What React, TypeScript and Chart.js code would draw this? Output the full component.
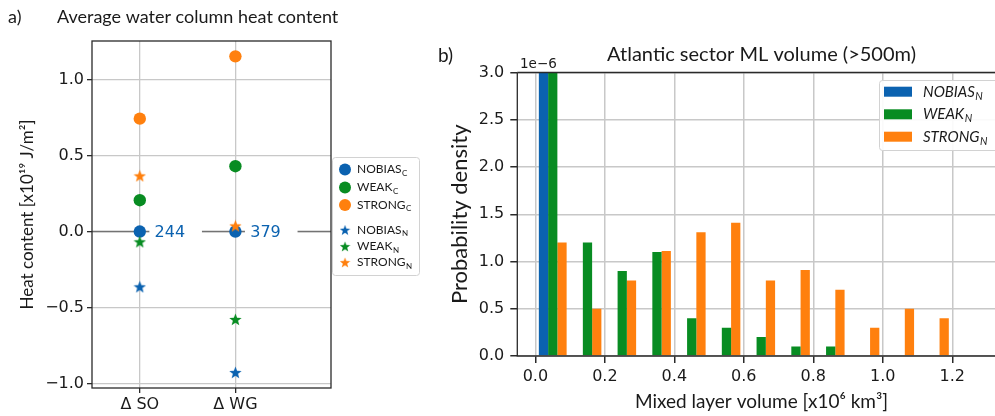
import React, { useEffect, useRef } from 'react';
import { Chart, registerables } from 'chart.js';
Chart.register(...registerables);

// ---------- Panel a) data ----------
const regions = ['Δ SO', 'Δ WG'];
const regionX = [0, 1];
const nobiasC = [0, 0];
const weakC = [0.206, 0.43];
const strongC = [0.743, 1.153];
const nobiasN = [-0.364, -0.928];
const weakN = [-0.068, -0.579];
const strongN = [0.366, 0.037];
const countLabels = ['244', '379'];
const heatTicks = [-1, -0.5, 0, 0.5, 1];

// ---------- Panel b) data ----------
const binCenters = [0.05, 0.15, 0.25, 0.35, 0.45, 0.55, 0.65, 0.75, 0.85, 0.95, 1.05, 1.15];
const histNobias = [10.0, 0, 0, 0, 0, 0, 0, 0, 0, 0, 0, 0];
const histWeak = [5.7, 1.2, 0.9, 1.1, 0.4, 0.3, 0.2, 0.1, 0.1, 0, 0, 0];
const histStrong = [1.2, 0.5, 0.8, 1.11, 1.31, 1.41, 0.8, 0.91, 0.7, 0.3, 0.5, 0.4];
const volumeTicks = [0, 0.2, 0.4, 0.6, 0.8, 1.0, 1.2, 1.4];
const densityTicks = [0, 0.5, 1, 1.5, 2, 2.5, 3];

const BLUE = '#0b62b0';
const GREEN = '#088c22';
const ORANGE = '#ff800e';
const TEXT = '#1a1a1a';
const SPINE = '#2a2a2a';
const GRID = '#c8c8c8';
const TICKFONT = { family: 'DejaVu Sans', size: 16 };
const LABELFONT = 'Lato';

function makeStar(color: string, size: number) {
  const c = document.createElement('canvas');
  c.width = size;
  c.height = size;
  const ctx = c.getContext('2d')!;
  ctx.fillStyle = color;
  ctx.beginPath();
  const cx = size / 2, cy = size / 2 + size * 0.04, R = size / 2, r = R * 0.42;
  for (let i = 0; i < 10; i++) {
    const a = -Math.PI / 2 + (i * Math.PI) / 5;
    const rad = i % 2 === 0 ? R : r;
    ctx.lineTo(cx + rad * Math.cos(a), cy + rad * Math.sin(a));
  }
  ctx.closePath();
  ctx.fill();
  return c;
}

function fmtTick(v: number) {
  const s = Math.abs(v).toFixed(1);
  return v < 0 ? '−' + s : s;
}

function roundRect(ctx: CanvasRenderingContext2D, x: number, y: number, w: number, h: number, r: number) {
  ctx.beginPath();
  ctx.moveTo(x + r, y);
  ctx.lineTo(x + w - r, y);
  ctx.arcTo(x + w, y, x + w, y + r, r);
  ctx.lineTo(x + w, y + h - r);
  ctx.arcTo(x + w, y + h, x + w - r, y + h, r);
  ctx.lineTo(x + r, y + h);
  ctx.arcTo(x, y + h, x, y + h - r, r);
  ctx.lineTo(x, y + r);
  ctx.arcTo(x, y, x + r, y, r);
  ctx.closePath();
}

function textWithSub(ctx: CanvasRenderingContext2D, main: string, sub: string, x: number, y: number, size: number, subSize: number, style = '') {
  ctx.font = `${style}${size}px ${LABELFONT}`;
  ctx.textBaseline = 'middle';
  ctx.textAlign = 'left';
  ctx.fillText(main, x, y);
  const w = ctx.measureText(main).width;
  ctx.font = `${style}${subSize}px ${LABELFONT}`;
  ctx.fillText(sub, x + w + 0.5, y + size * 0.3);
}

export default function App() {
  const leftRef = useRef<HTMLCanvasElement>(null);
  const rightRef = useRef<HTMLCanvasElement>(null);

  useEffect(() => {
    const starB = makeStar(BLUE, 13);
    const starG = makeStar(GREEN, 13);
    const starO = makeStar(ORANGE, 13);
    const pts = (arr: number[]) => regionX.map((x, i) => ({ x, y: arr[i] }));

    const leftPlugin = {
      id: 'leftDeco',
      beforeDatasetsDraw(chart: any) {
        const { ctx, chartArea: a, scales } = chart;
        const y0 = scales.y.getPixelForValue(0);
        ctx.save();
        ctx.strokeStyle = '#737373';
        ctx.lineWidth = 1.5;
        ctx.beginPath();
        ctx.moveTo(a.left, y0);
        ctx.lineTo(a.right, y0);
        ctx.stroke();
        regionX.forEach((xv, i) => {
          const xb0 = scales.x.getPixelForValue(xv + 0.1);
          const xb1 = scales.x.getPixelForValue(xv + 0.65);
          ctx.fillStyle = '#ffffff';
          ctx.fillRect(xb0, y0 - 10, xb1 - xb0, 20);
          ctx.fillStyle = BLUE;
          ctx.font = '16px DejaVu Sans';
          ctx.textAlign = 'left';
          ctx.textBaseline = 'middle';
          ctx.fillText(countLabels[i], scales.x.getPixelForValue(xv + 0.155), y0 + 1);
        });
        ctx.restore();
      },
      afterDraw(chart: any) {
        const { ctx, chartArea: a } = chart;
        ctx.save();
        ctx.strokeStyle = SPINE;
        ctx.lineWidth = 1.3;
        ctx.strokeRect(a.left, a.top, a.right - a.left, a.bottom - a.top);
        // titles
        ctx.fillStyle = TEXT;
        ctx.font = `18px ${LABELFONT}`;
        ctx.textBaseline = 'middle';
        ctx.textAlign = 'left';
        ctx.fillText('a)', 8, 17);
        ctx.fillText('Average water column heat content', 57, 17);
        // legend
        ctx.fillStyle = 'rgba(255,255,255,0.9)';
        ctx.strokeStyle = '#d2d2d2';
        ctx.lineWidth = 1;
        roundRect(ctx, 332.5, 157.5, 87, 118, 3);
        ctx.fill();
        ctx.stroke();
        const rows = [
          { c: BLUE, t: 'NOBIAS', s: 'C', y: 169.5, star: null as any },
          { c: GREEN, t: 'WEAK', s: 'C', y: 187.5, star: null as any },
          { c: ORANGE, t: 'STRONG', s: 'C', y: 205, star: null as any },
          { c: BLUE, t: 'NOBIAS', s: 'N', y: 230, star: starB },
          { c: GREEN, t: 'WEAK', s: 'N', y: 246.5, star: starG },
          { c: ORANGE, t: 'STRONG', s: 'N', y: 262.5, star: starO },
        ];
        rows.forEach((r) => {
          if (r.star) {
            ctx.drawImage(r.star, 345 - 5.5, r.y - 5.5, 11, 11);
          } else {
            ctx.fillStyle = r.c;
            ctx.beginPath();
            ctx.arc(345, r.y, 6, 0, Math.PI * 2);
            ctx.fill();
          }
          ctx.fillStyle = TEXT;
          textWithSub(ctx, r.t, r.s, 357, r.y, 12, 8);
        });
        ctx.restore();
      },
    };

    const circleDs = (label: string, arr: number[], color: string) => ({
      label, data: pts(arr), pointStyle: 'circle', radius: 6.2, backgroundColor: color, borderWidth: 0, order: 2,
    });
    const starDs = (label: string, arr: number[], img: HTMLCanvasElement) => ({
      label, data: pts(arr), pointStyle: img, radius: 6, backgroundColor: '#000', borderWidth: 0, order: 1,
    });

    const left = new Chart(leftRef.current!, {
      type: 'scatter',
      data: {
        datasets: [
          circleDs('NOBIAS_C', nobiasC, BLUE),
          circleDs('WEAK_C', weakC, GREEN),
          circleDs('STRONG_C', strongC, ORANGE),
          starDs('NOBIAS_N', nobiasN, starB),
          starDs('WEAK_N', weakN, starG),
          starDs('STRONG_N', strongN, starO),
        ] as any,
      },
      options: {
        responsive: false,
        animation: false,
        events: [],
        layout: { padding: { left: 0, top: 41, right: 99, bottom: 0 } },
        plugins: { legend: { display: false }, tooltip: { enabled: false } },
        scales: {
          x: {
            type: 'linear', min: -0.5, max: 2,
            afterBuildTicks: (s: any) => { s.ticks = regionX.map((v) => ({ value: v })); },
            afterFit: (s: any) => { s.height = 28; },
            ticks: { callback: (v: any) => regions[regionX.indexOf(Number(v))], font: TICKFONT, color: TEXT, padding: 2, maxRotation: 0 },
            grid: { color: GRID, lineWidth: 1.3, tickColor: SPINE, tickLength: 5 },
            border: { display: false },
          },
          y: {
            type: 'linear', min: -1.03, max: 1.254,
            afterBuildTicks: (s: any) => { s.ticks = heatTicks.map((v) => ({ value: v })); },
            afterFit: (s: any) => { s.width = 92; },
            ticks: { callback: (v: any) => fmtTick(Number(v)), font: TICKFONT, color: TEXT, padding: 3 },
            grid: { color: GRID, lineWidth: 1.3, tickColor: SPINE, tickLength: 5 },
            border: { display: false },
            title: { display: true, text: 'Heat content [x10¹⁹ J/m²]', font: { family: LABELFONT, size: 17 }, color: TEXT, padding: { top: 17.5, bottom: 0 } },
          },
        },
      } as any,
      plugins: [leftPlugin],
    });

    const rightPlugin = {
      id: 'rightDeco',
      afterDraw(chart: any) {
        const { ctx, chartArea: a } = chart;
        ctx.save();
        ctx.strokeStyle = SPINE;
        ctx.lineWidth = 1.3;
        ctx.beginPath();
        ctx.moveTo(a.left, a.top);
        ctx.lineTo(a.right, a.top);
        ctx.moveTo(a.left, a.top);
        ctx.lineTo(a.left, a.bottom);
        ctx.lineTo(a.right, a.bottom);
        ctx.lineTo(a.right, a.top);
        ctx.stroke();
        ctx.fillStyle = TEXT;
        ctx.textBaseline = 'middle';
        ctx.textAlign = 'left';
        ctx.font = `19px ${LABELFONT}`;
        ctx.fillText('b)', 8, 56);
        ctx.font = `20px ${LABELFONT}`;
        ctx.textAlign = 'center';
        ctx.fillText('Atlantic sector ML volume (>500m)', (a.left + a.right) / 2, 55);
        ctx.textAlign = 'left';
        ctx.font = '13.5px DejaVu Sans';
        ctx.fillText('1e−6', 90, 64);
        // legend
        ctx.fillStyle = 'rgba(255,255,255,0.9)';
        ctx.strokeStyle = '#d2d2d2';
        ctx.lineWidth = 1;
        roundRect(ctx, 449.5, 80.5, 119, 70, 3);
        ctx.fill();
        ctx.stroke();
        const rows = [
          { c: BLUE, t: 'NOBIAS', y: 91.7 },
          { c: GREEN, t: 'WEAK', y: 114.3 },
          { c: ORANGE, t: 'STRONG', y: 136.7 },
        ];
        rows.forEach((r) => {
          ctx.fillStyle = r.c;
          ctx.fillRect(454, r.y - 5, 28, 10);
          ctx.fillStyle = TEXT;
          textWithSub(ctx, r.t, 'N', 493, r.y, 15, 10.5, 'italic ');
        });
        ctx.restore();
      },
    };

    const barDs = (label: string, arr: number[], color: string) => ({
      label,
      data: binCenters.map((x, i) => ({ x, y: arr[i] })),
      backgroundColor: color,
      borderWidth: 0,
      categoryPercentage: 0.8,
      barPercentage: 1.0,
    });

    const right = new Chart(rightRef.current!, {
      type: 'bar',
      data: {
        datasets: [
          barDs('NOBIAS_N', histNobias, BLUE),
          barDs('WEAK_N', histWeak, GREEN),
          barDs('STRONG_N', histStrong, ORANGE),
        ] as any,
      },
      options: {
        responsive: false,
        animation: false,
        events: [],
        layout: { padding: { left: 0, top: 72.5, right: 34.2, bottom: 0 } },
        plugins: { legend: { display: false }, tooltip: { enabled: false } },
        scales: {
          x: {
            type: 'linear', min: -0.052, max: 1.354, offset: false,
            afterBuildTicks: (s: any) => { s.ticks = volumeTicks.map((v) => ({ value: v })); },
            afterFit: (s: any) => { s.height = 60; },
            ticks: { callback: (v: any) => Number(v).toFixed(1), font: TICKFONT, color: TEXT, padding: 4, maxRotation: 0, autoSkip: false },
            grid: { color: GRID, lineWidth: 1.5, tickColor: SPINE, tickLength: 7, offset: false },
            border: { display: false },
            title: { display: true, text: 'Mixed layer volume [x10⁶ km³]', font: { family: LABELFONT, size: 19 }, color: TEXT, padding: { top: 0, bottom: 2.6 } },
          },
          y: {
            type: 'linear', min: 0, max: 3,
            afterBuildTicks: (s: any) => { s.ticks = densityTicks.map((v) => ({ value: v })); },
            afterFit: (s: any) => { s.width = 87.3; },
            ticks: { callback: (v: any) => Number(v).toFixed(1), font: TICKFONT, color: TEXT, padding: 6 },
            grid: { color: GRID, lineWidth: 1.5, tickColor: SPINE, tickLength: 7 },
            border: { display: false },
            title: { display: true, text: 'Probability density', font: { family: LABELFONT, size: 22 }, color: TEXT, padding: { top: 16.8, bottom: 0 } },
          },
        },
      } as any,
      plugins: [rightPlugin],
    });

    return () => {
      left.destroy();
      right.destroy();
    };
  }, []);

  return (
    <div style={{ position: 'absolute', left: 0, top: 0, width: 995, height: 416, overflow: 'hidden', background: '#fff' }}>
      <canvas ref={leftRef} width={430} height={416} style={{ position: 'absolute', left: 0, top: 0 }} />
      <canvas ref={rightRef} width={610} height={416} style={{ position: 'absolute', left: 430, top: 0 }} />
    </div>
  );
}
